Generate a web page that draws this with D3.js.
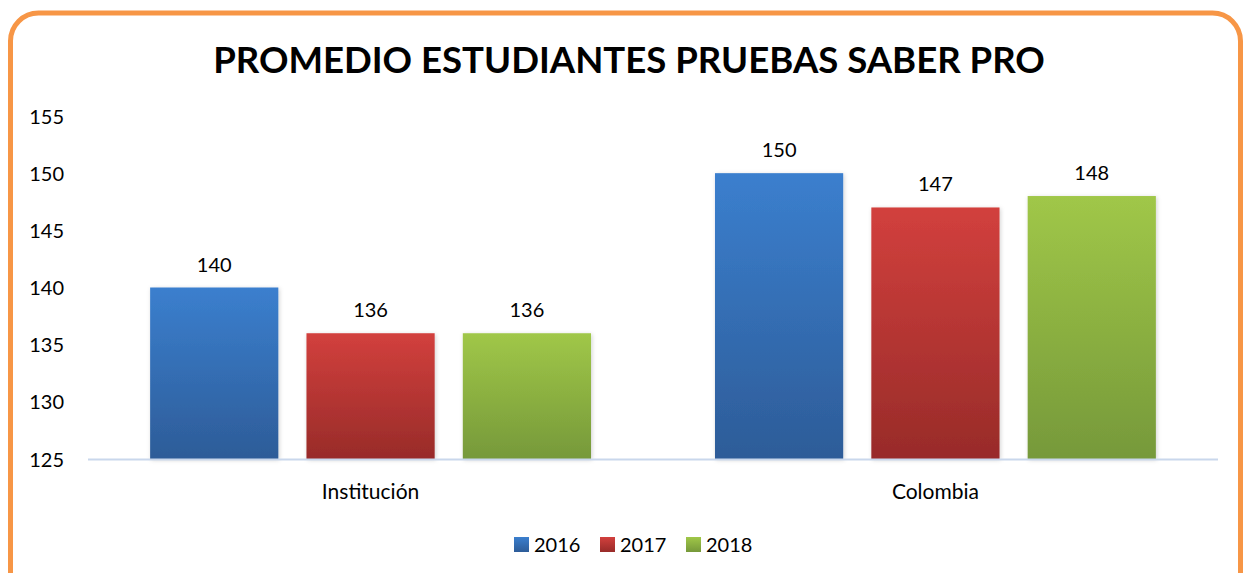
<!DOCTYPE html>
<html lang="es">
<head>
<meta charset="UTF-8" />
<script src="https://d3js.org/d3.v7.min.js"></script>
<title>Promedio Saber Pro</title>
<style>
  body { margin: 0; background: #fff; }
  text { font-family: Lato, "Open Sans", sans-serif; fill: #000; }
</style>
</head>
<body>
<script>
// data
var categories = ["Institución", "Colombia"];
var years = ["2016", "2017", "2018"];
var values2016 = [140, 150];
var values2017 = [136, 147];
var values2018 = [136, 148];
var yTicks = [125, 130, 135, 140, 145, 150, 155];
var title = "PROMEDIO ESTUDIANTES PRUEBAS SABER PRO";

var width = 1245, height = 573;
var svg = d3.select("body").append("svg").attr("width", width).attr("height", height);

var colors = {
  "2016": ["#3b7fce", "#2d5c98"],
  "2017": ["#d2403d", "#982b29"],
  "2018": ["#a0c748", "#76993a"]
};
var defs = svg.append("defs");
years.forEach(function(y){
  var g = defs.append("linearGradient").attr("id", "g" + y).attr("x1", 0).attr("y1", 0).attr("x2", 0).attr("y2", 1);
  g.append("stop").attr("offset", "0%").attr("stop-color", colors[y][0]);
  g.append("stop").attr("offset", "100%").attr("stop-color", colors[y][1]);
});
var sh = defs.append("filter").attr("id", "shadow").attr("x", "-10%").attr("y", "-10%").attr("width", "120%").attr("height", "120%");
sh.append("feDropShadow").attr("dx", 1).attr("dy", 1).attr("stdDeviation", 2).attr("flood-color", "#000").attr("flood-opacity", 0.18);

// frame
svg.append("rect").attr("x", 10.5).attr("y", 13).attr("width", 1230).attr("height", 600)
  .attr("rx", 28).attr("fill", "#fff").attr("stroke", "#f79646").attr("stroke-width", 5);

// title
var t = svg.append("text").attr("x", 629).attr("y", 73).attr("text-anchor", "middle")
  .attr("font-weight", "bold").attr("font-size", 36).text(title);
var tl = t.node().getComputedTextLength();
t.attr("font-size", 36 * 832 / tl);

var rows = [values2016, values2017, values2018];

var x0 = d3.scaleBand().domain(categories).range([88, 1218]).paddingInner(0.2195).paddingOuter(0.11);
var x1 = d3.scaleBand().domain(years).range([0, x0.bandwidth()]).paddingInner(0.18);
var y = d3.scaleLinear().domain([125, 155]).range([459, 116]);

// y axis labels
var yAxis = svg.append("g").attr("transform", "translate(64,0)")
  .call(d3.axisLeft(y).tickValues(yTicks).tickSize(0).tickPadding(0));
yAxis.select(".domain").remove();
yAxis.selectAll("text").attr("font-size", 20).attr("font-family", "Lato").attr("fill", "#000").attr("dy", "0.35em");

// bars
var groups = svg.selectAll("g.cat").data(categories).enter().append("g")
  .attr("class", "cat").attr("transform", function(d){ return "translate(" + x0(d) + ",0)"; });

groups.each(function(c, ci){
  var g = d3.select(this);
  years.forEach(function(yr, yi){
    var v = rows[yi][ci];
    g.append("rect").attr("x", x1(yr)).attr("y", y(v)).attr("width", x1.bandwidth())
      .attr("height", y(125) - y(v)).attr("fill", "url(#g" + yr + ")").attr("filter", "url(#shadow)");
    g.append("text").attr("x", x1(yr) + x1.bandwidth() / 2).attr("y", y(v) - 16)
      .attr("text-anchor", "middle").attr("font-size", 20).text(v);
  });
});

// x axis
var xAxis = svg.append("g").attr("transform", "translate(0,459)")
  .call(d3.axisBottom(x0).tickSize(0).tickPadding(25).tickSizeOuter(0));
xAxis.select(".domain").attr("d", "M88,0.5H1218").attr("stroke", "#c9d7ec").attr("stroke-width", 2);
xAxis.selectAll("text").attr("font-size", 21).attr("font-family", "Lato").attr("fill", "#000");

// legend
var lx = [514, 600, 686];
var leg = svg.append("g");
years.forEach(function(yr, i){
  leg.append("rect").attr("x", lx[i]).attr("y", 537).attr("width", 15).attr("height", 15)
    .attr("fill", "url(#g" + yr + ")");
  leg.append("text").attr("x", lx[i] + 20).attr("y", 552).attr("font-size", 20).text(yr);
});
</script>
</body>
</html>
